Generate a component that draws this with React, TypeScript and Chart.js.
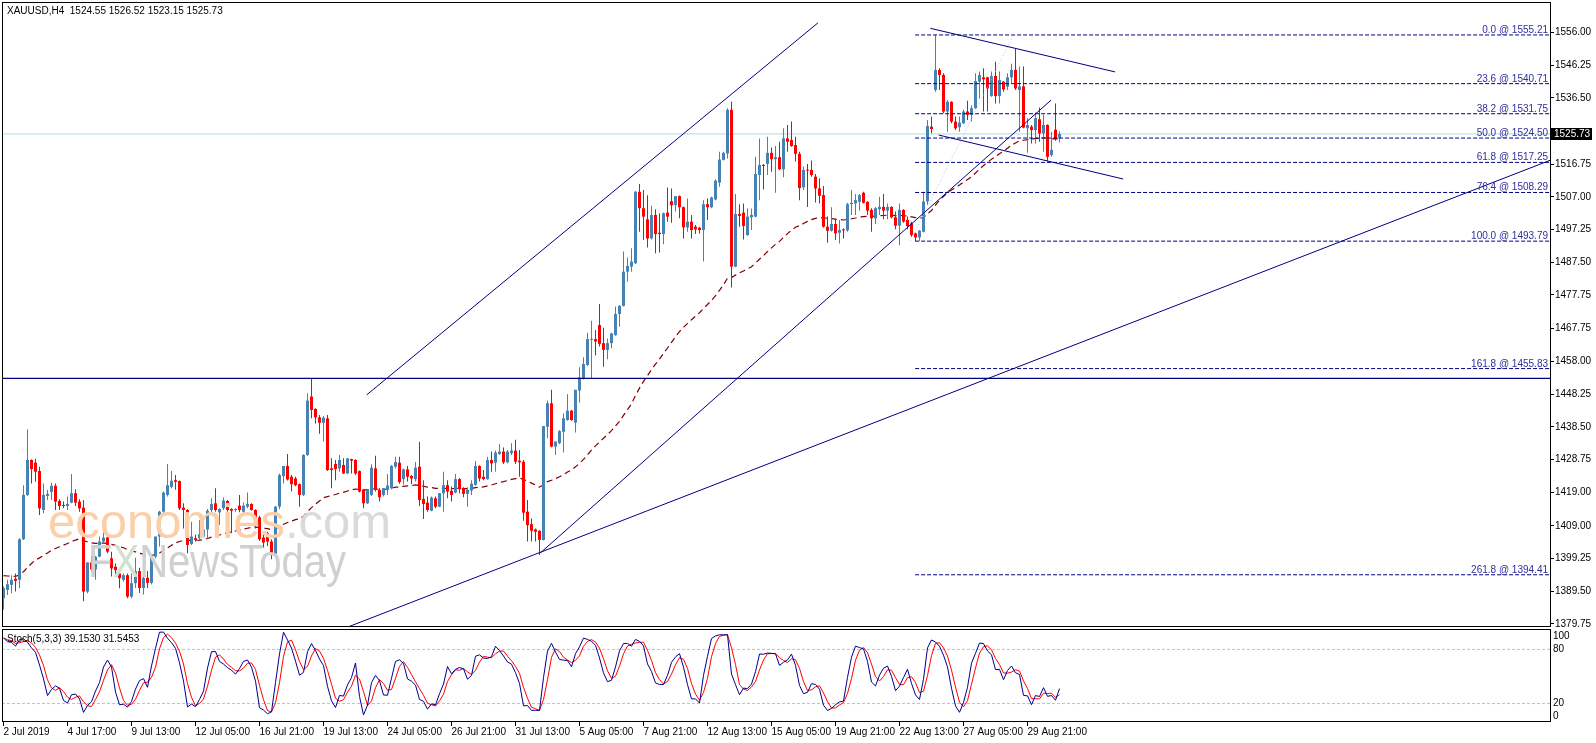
import { useEffect, useRef } from "react";
import { Chart, registerables } from "chart.js";

Chart.register(...registerables);

// ---------------- data ----------------
const opens = [
  1387.4, 1389.9, 1391.4, 1393.2, 1392.9, 1405.0, 1418.2, 1428.6, 1427.8, 1425.3,
  1413.7, 1417.9, 1419.1, 1420.9, 1416.4, 1415.2, 1414.9, 1415.9, 1418.7, 1416.2,
  1414.4, 1389.4, 1398.1, 1396.0, 1399.8, 1404.3, 1405.5, 1399.3, 1396.8, 1394.8,
  1392.9, 1394.3, 1387.9, 1391.9, 1395.5, 1390.5, 1393.5, 1392.0, 1399.8, 1405.8,
  1413.2, 1418.2, 1420.6, 1422.6, 1422.3, 1414.4, 1413.7, 1403.6, 1405.3, 1405.3,
  1405.8, 1407.9, 1413.7, 1415.7, 1413.0, 1414.2, 1416.4, 1414.0, 1413.7, 1415.0,
  1413.2, 1414.7, 1415.5, 1413.7, 1411.5, 1405.5, 1406.8, 1404.3, 1400.5, 1414.7,
  1423.8, 1426.8, 1423.6, 1423.1, 1421.4, 1418.2, 1430.1, 1447.5, 1443.8, 1441.3,
  1439.7, 1441.0, 1426.1, 1427.4, 1426.1, 1427.1, 1424.6, 1428.9, 1428.6, 1425.3,
  1419.7, 1415.7, 1418.2, 1426.1, 1419.7, 1418.2, 1419.7, 1420.2, 1426.6, 1427.8,
  1422.9, 1425.8, 1423.8, 1422.9, 1426.6, 1417.0, 1415.9, 1413.5, 1417.2, 1414.7,
  1418.7, 1421.1, 1419.4, 1418.9, 1422.9, 1420.2, 1418.5, 1419.5, 1421.2, 1426.8,
  1423.6, 1422.9, 1428.6, 1427.8, 1430.4, 1431.1, 1427.9, 1430.6, 1431.4, 1428.4,
  1428.1, 1413.2, 1409.5, 1407.9, 1407.5, 1404.8, 1438.5, 1445.5, 1432.6, 1433.6,
  1437.0, 1440.5, 1443.3, 1439.7, 1449.3, 1452.9, 1456.9, 1464.4, 1464.6, 1468.8,
  1463.4, 1461.4, 1463.4, 1465.8, 1472.1, 1474.5, 1484.7, 1486.2, 1487.2, 1508.5,
  1503.6, 1500.3, 1494.6, 1501.6, 1496.3, 1495.9, 1502.3, 1505.7, 1504.5, 1507.2,
  1503.9, 1497.9, 1499.6, 1498.1, 1497.8, 1497.1, 1504.8, 1503.9, 1506.2, 1511.2,
  1518.0, 1519.9, 1532.9, 1486.2, 1501.9, 1502.3, 1495.6, 1500.9, 1501.1, 1513.5,
  1516.5, 1516.8, 1520.1, 1518.2, 1518.8, 1515.2, 1524.4, 1523.9, 1522.4, 1519.8,
  1509.8, 1515.0, 1515.0, 1513.0, 1509.5, 1507.5, 1498.1, 1496.9, 1498.9, 1496.3,
  1497.2, 1497.0, 1504.8, 1505.0, 1505.5, 1508.2, 1505.5, 1503.1, 1500.6, 1503.3,
  1504.0, 1502.9, 1504.0, 1500.9, 1498.4, 1503.1, 1500.1, 1499.1, 1496.1, 1494.9,
  1496.6, 1505.6, 1527.9, 1538.8, 1544.8, 1543.3, 1532.4, 1535.3, 1529.4, 1527.7,
  1528.9, 1532.4, 1531.4, 1533.4, 1541.3, 1542.6, 1542.6, 1537.0, 1543.0, 1537.0,
  1541.3, 1539.8, 1542.6, 1544.8, 1538.8, 1539.9, 1527.4, 1527.9, 1526.9, 1530.1,
  1525.9, 1528.4, 1519.4, 1527.0, 1524.55,
];

const highs = [
  1390.9, 1392.9, 1394.3, 1394.8, 1405.3, 1421.1, 1437.7, 1428.8, 1429.0, 1426.6,
  1421.6, 1419.7, 1421.8, 1421.6, 1416.9, 1416.2, 1417.7, 1424.4, 1419.9, 1416.9,
  1416.7, 1398.1, 1400.0, 1400.0, 1405.8, 1407.2, 1406.0, 1401.3, 1397.8, 1395.3,
  1394.8, 1394.8, 1394.8, 1399.5, 1396.5, 1394.5, 1395.5, 1400.0, 1405.8, 1413.5,
  1419.2, 1427.4, 1425.3, 1424.1, 1422.5, 1415.7, 1414.0, 1410.2, 1406.3, 1410.7,
  1410.7, 1414.0, 1417.2, 1420.2, 1414.2, 1417.4, 1416.7, 1414.2, 1414.2, 1418.2,
  1415.9, 1418.9, 1415.7, 1413.9, 1412.0, 1406.3, 1407.2, 1405.0, 1414.9, 1424.6,
  1426.8, 1430.4, 1424.1, 1423.6, 1421.6, 1430.3, 1448.5, 1452.9, 1444.0, 1442.0,
  1441.7, 1442.0, 1429.1, 1428.6, 1430.1, 1429.1, 1429.1, 1429.0, 1428.8, 1425.5,
  1419.9, 1419.7, 1427.3, 1429.9, 1420.2, 1420.2, 1424.4, 1427.1, 1429.6, 1429.6,
  1426.1, 1426.8, 1424.1, 1428.0, 1434.0, 1422.6, 1417.7, 1417.7, 1417.7, 1418.7,
  1425.1, 1422.6, 1420.7, 1424.4, 1423.2, 1420.5, 1420.5, 1422.6, 1428.3, 1427.0,
  1425.6, 1429.6, 1431.1, 1431.4, 1433.4, 1432.3, 1431.6, 1433.6, 1434.6, 1431.6,
  1428.6, 1416.7, 1411.2, 1408.2, 1407.7, 1438.7, 1446.3, 1449.5, 1434.1, 1437.5,
  1442.5, 1448.2, 1443.5, 1449.5, 1456.2, 1459.2, 1466.5, 1470.1, 1467.3, 1475.1,
  1468.0, 1464.8, 1466.4, 1474.3, 1474.8, 1490.7, 1488.9, 1491.7, 1508.7, 1510.8,
  1509.0, 1507.5, 1504.3, 1503.3, 1502.1, 1502.3, 1509.8, 1509.5, 1507.2, 1507.4,
  1504.1, 1506.5, 1501.6, 1498.6, 1498.1, 1506.0, 1506.5, 1507.0, 1512.2, 1520.4,
  1520.4, 1533.4, 1535.3, 1507.8, 1504.8, 1505.0, 1503.5, 1503.5, 1518.9, 1524.4,
  1516.8, 1524.9, 1521.7, 1522.1, 1523.4, 1527.4, 1528.4, 1529.4, 1524.9, 1520.4,
  1516.0, 1516.8, 1517.8, 1513.8, 1512.5, 1510.2, 1501.1, 1503.9, 1500.3, 1500.1,
  1497.6, 1505.2, 1509.0, 1507.8, 1507.8, 1508.5, 1505.7, 1503.6, 1504.0, 1507.0,
  1507.8, 1505.0, 1504.2, 1502.6, 1505.0, 1503.3, 1501.1, 1499.6, 1496.3, 1497.1,
  1508.5, 1529.9, 1530.9, 1555.21, 1545.3, 1543.8, 1535.8, 1535.5, 1530.9, 1530.9,
  1532.9, 1535.6, 1534.3, 1543.8, 1544.3, 1545.3, 1542.8, 1544.3, 1547.2, 1544.3,
  1541.5, 1543.8, 1546.6, 1551.2, 1545.8, 1545.8, 1530.4, 1528.4, 1532.1, 1533.6,
  1531.4, 1528.6, 1526.4, 1534.8, 1526.52,
];

const lows = [
  1384.0, 1388.4, 1388.9, 1389.4, 1390.4, 1404.8, 1417.9, 1421.6, 1422.1, 1412.2,
  1412.7, 1416.7, 1416.7, 1413.7, 1413.7, 1414.2, 1413.7, 1415.7, 1414.9, 1413.2,
  1386.5, 1388.9, 1395.5, 1392.9, 1399.6, 1403.8, 1400.8, 1393.9, 1394.3, 1390.4,
  1392.4, 1387.4, 1387.4, 1390.5, 1389.0, 1388.5, 1390.5, 1391.5, 1399.3, 1402.8,
  1412.7, 1417.7, 1420.2, 1419.7, 1413.7, 1408.2, 1400.8, 1403.3, 1404.3, 1404.8,
  1405.3, 1405.3, 1412.7, 1413.2, 1409.2, 1413.7, 1413.2, 1406.8, 1413.2, 1413.0,
  1412.7, 1414.2, 1413.5, 1408.2, 1404.5, 1402.5, 1403.0, 1399.0, 1399.8, 1413.9,
  1421.6, 1422.5, 1419.2, 1420.8, 1414.7, 1417.9, 1429.8, 1441.0, 1439.5, 1436.4,
  1434.1, 1425.3, 1420.2, 1422.6, 1425.1, 1424.4, 1424.4, 1424.6, 1424.1, 1418.9,
  1414.2, 1415.5, 1417.9, 1419.2, 1416.2, 1417.7, 1418.2, 1419.9, 1426.1, 1421.5,
  1421.2, 1422.2, 1421.4, 1422.2, 1414.9, 1411.0, 1413.2, 1413.3, 1414.2, 1414.5,
  1413.2, 1417.2, 1416.2, 1418.7, 1418.7, 1417.5, 1414.7, 1418.2, 1420.9, 1422.2,
  1422.6, 1422.7, 1425.1, 1425.1, 1430.1, 1427.4, 1427.6, 1430.1, 1427.4, 1423.6,
  1410.5, 1404.3, 1404.3, 1404.3, 1400.3, 1404.6, 1435.1, 1432.4, 1430.1, 1433.3,
  1430.8, 1440.3, 1440.3, 1436.8, 1445.7, 1452.6, 1456.7, 1452.9, 1459.7, 1462.4,
  1456.4, 1458.6, 1461.9, 1465.6, 1468.3, 1474.3, 1481.7, 1484.7, 1487.0, 1496.6,
  1494.1, 1491.9, 1494.3, 1490.2, 1490.4, 1492.9, 1499.6, 1499.3, 1502.6, 1500.6,
  1494.6, 1496.6, 1494.6, 1495.9, 1496.1, 1487.7, 1500.1, 1503.6, 1506.0, 1510.0,
  1517.8, 1518.4, 1480.0, 1486.0, 1498.1, 1494.3, 1495.4, 1497.1, 1500.9, 1506.0,
  1509.2, 1513.5, 1514.5, 1508.2, 1515.0, 1512.8, 1520.4, 1521.9, 1517.5, 1506.0,
  1509.0, 1504.0, 1513.0, 1505.3, 1505.0, 1497.8, 1493.3, 1496.7, 1494.1, 1493.1,
  1494.6, 1496.6, 1501.6, 1501.6, 1502.9, 1505.0, 1501.6, 1496.6, 1498.9, 1501.6,
  1500.3, 1500.3, 1500.6, 1497.3, 1492.6, 1499.3, 1497.3, 1495.1, 1493.79, 1493.8,
  1496.4, 1504.6, 1525.9, 1538.3, 1538.8, 1531.9, 1526.4, 1528.9, 1526.9, 1526.4,
  1528.7, 1529.9, 1529.4, 1533.2, 1536.3, 1532.4, 1532.4, 1536.8, 1534.8, 1534.8,
  1538.3, 1538.8, 1540.8, 1538.8, 1526.4, 1527.4, 1520.1, 1522.9, 1522.9, 1523.4,
  1520.4, 1517.5, 1518.9, 1523.7, 1523.15,
];

const closes = [
  1390.4, 1391.6, 1392.9, 1392.6, 1405.0, 1418.2, 1428.6, 1425.9, 1425.1, 1414.2,
  1418.2, 1418.5, 1420.9, 1416.2, 1414.9, 1414.9, 1415.5, 1418.7, 1415.9, 1414.2,
  1389.4, 1398.1, 1396.0, 1399.8, 1404.3, 1405.5, 1401.3, 1396.3, 1395.8, 1393.4,
  1394.3, 1387.9, 1391.9, 1395.5, 1390.5, 1393.5, 1392.0, 1399.8, 1405.8, 1413.2,
  1418.9, 1421.1, 1422.4, 1422.1, 1414.2, 1413.7, 1403.3, 1405.8, 1404.8, 1406.5,
  1407.9, 1413.5, 1415.5, 1413.7, 1414.0, 1416.5, 1413.7, 1413.5, 1414.0, 1413.7,
  1415.0, 1415.5, 1413.7, 1411.5, 1405.0, 1404.0, 1404.3, 1400.5, 1414.7, 1424.1,
  1426.8, 1422.8, 1421.4, 1421.1, 1418.2, 1430.1, 1446.3, 1443.5, 1441.3, 1439.7,
  1441.2, 1425.6, 1425.6, 1425.9, 1428.6, 1424.6, 1429.1, 1428.4, 1424.6, 1419.2,
  1415.7, 1419.7, 1426.3, 1419.7, 1417.5, 1420.2, 1421.0, 1426.8, 1428.0, 1422.0,
  1425.8, 1423.6, 1423.1, 1426.3, 1416.7, 1415.5, 1413.7, 1417.4, 1414.7, 1418.7,
  1421.1, 1419.2, 1418.2, 1422.9, 1419.9, 1418.5, 1419.7, 1421.5, 1426.8, 1423.1,
  1422.9, 1428.6, 1427.6, 1430.8, 1431.1, 1427.9, 1431.1, 1431.4, 1428.1, 1427.9,
  1412.9, 1409.2, 1407.5, 1407.2, 1404.8, 1438.7, 1445.5, 1432.6, 1434.1, 1437.2,
  1441.0, 1443.3, 1440.5, 1449.5, 1453.2, 1457.2, 1464.6, 1464.6, 1463.9, 1463.2,
  1461.4, 1463.4, 1466.3, 1472.1, 1474.5, 1484.7, 1486.4, 1487.7, 1508.5, 1503.6,
  1501.1, 1494.6, 1501.6, 1495.9, 1495.9, 1502.1, 1501.1, 1504.5, 1507.2, 1503.9,
  1497.9, 1499.6, 1497.1, 1497.3, 1497.1, 1504.8, 1503.9, 1506.8, 1511.8, 1518.1,
  1520.1, 1532.9, 1486.2, 1501.9, 1501.3, 1498.3, 1501.1, 1501.6, 1513.8, 1516.5,
  1516.2, 1520.1, 1518.2, 1518.8, 1515.2, 1524.4, 1523.4, 1522.1, 1519.8, 1509.6,
  1515.0, 1514.8, 1513.5, 1509.5, 1507.3, 1498.1, 1496.9, 1498.9, 1496.1, 1497.1,
  1497.0, 1504.8, 1505.2, 1506.0, 1507.5, 1505.2, 1502.9, 1500.6, 1503.6, 1504.0,
  1502.9, 1504.0, 1500.9, 1498.4, 1503.1, 1499.6, 1498.3, 1495.6, 1494.9, 1496.9,
  1505.6, 1528.1, 1527.2, 1544.8, 1543.3, 1532.4, 1535.3, 1529.4, 1527.4, 1529.1,
  1532.4, 1531.4, 1533.4, 1541.5, 1543.3, 1542.0, 1539.3, 1543.0, 1537.0, 1541.8,
  1539.0, 1542.6, 1544.8, 1539.3, 1539.9, 1527.6, 1528.4, 1526.9, 1530.4, 1525.9,
  1528.4, 1518.9, 1521.0, 1524.3, 1525.73,
];

const priceTicks = [
  1556.0, 1546.25, 1536.5, 1516.75, 1507.0, 1497.25, 1487.5, 1477.75, 1467.75,
  1458.0, 1448.25, 1438.5, 1428.75, 1419.0, 1409.0, 1399.25, 1389.5, 1379.75,
];

const dateLabels = [
  "2 Jul 2019", "4 Jul 17:00", "9 Jul 13:00", "12 Jul 05:00", "16 Jul 21:00",
  "19 Jul 13:00", "24 Jul 05:00", "26 Jul 21:00", "31 Jul 13:00", "5 Aug 05:00",
  "7 Aug 21:00", "12 Aug 13:00", "15 Aug 05:00", "19 Aug 21:00", "22 Aug 13:00",
  "27 Aug 05:00", "29 Aug 21:00",
];
const dateLabelBars = [0, 16, 32, 48, 64, 80, 96, 112, 128, 144, 160, 176, 192, 208, 224, 240, 256];

const fibPercents = ["0.0", "23.6", "38.2", "50.0", "61.8", "76.4", "100.0", "161.8", "261.8"];
const fibPrices = [1555.21, 1540.71, 1531.75, 1524.5, 1517.25, 1508.29, 1493.79, 1455.83, 1394.41];
const fibStartBar = 227.9;
const fibAnchor = [226.7, 1493.79, 252.5, 1555.21];

const horizontalLevel = 1452.9;
// [bar1, price1, bar2, price2]
const trendLines = [
  [90.8, 1448.0, 203.6, 1558.8],
  [134.2, 1400.9, 261.9, 1535.8],
  [70.0, 1371.4, 386.7, 1517.9],
  [231.7, 1557.2, 277.9, 1544.2],
  [233.8, 1525.4, 279.9, 1512.3],
];

const emaPeriod = 50;
const emaSeed = 1394.3;
const stochK = 5, stochSlow = 3, stochD = 3;
const stochLevels = [20, 80];
const stochAxisLabels = [100, 80, 20, 0];
const stochTitle = "Stoch(5,3,3) 39.1530 31.5453";

// ---------------- styling ----------------
const BULL = "#4682b4";
const BEAR = "#ff0000";
const NAVY = "#000080";
const FONT = "'Liberation Sans', Arial, sans-serif";
const X_MIN = -0.375;
const X_MAX = 386.625;
const Y_MIN = 1378.85;
const Y_MAX = 1565.03;

function calcEma(): number[] {
  const k = 2 / (emaPeriod + 1);
  const out: number[] = [];
  let prev = emaSeed;
  closes.forEach((c) => {
    prev = prev + k * (c - prev);
    out.push(prev);
  });
  return out;
}

function calcStoch(): { k: number[]; d: number[] } {
  const n = closes.length;
  const ll: number[] = [];
  const hh: number[] = [];
  for (let i = 0; i < n; i++) {
    let lo = Infinity, hi = -Infinity;
    for (let j = Math.max(0, i - stochK + 1); j <= i; j++) {
      lo = Math.min(lo, lows[j]);
      hi = Math.max(hi, highs[j]);
    }
    ll.push(lo);
    hh.push(hi);
  }
  const k: number[] = [];
  for (let i = 0; i < n; i++) {
    let num = 0, den = 0;
    for (let j = Math.max(0, i - stochSlow + 1); j <= i; j++) {
      num += closes[j] - ll[j];
      den += hh[j] - ll[j];
    }
    k.push(den > 0 ? (100 * num) / den : 50);
  }
  const d: number[] = [];
  for (let i = 0; i < n; i++) {
    let s = 0, c = 0;
    for (let j = Math.max(0, i - stochD + 1); j <= i; j++) {
      s += k[j];
      c++;
    }
    d.push(s / c);
  }
  return { k, d };
}

function lineDs(points: { x: number; y: number }[], color: string, width: number, dash: number[], order: number): any {
  return {
    type: "line",
    data: points,
    borderColor: color,
    backgroundColor: color,
    borderWidth: width,
    borderDash: dash,
    pointRadius: 0,
    pointHoverRadius: 0,
    fill: false,
    tension: 0,
    order,
  };
}

function noPad(s: any) {
  s.paddingTop = 0;
  s.paddingBottom = 0;
  s.paddingLeft = 0;
  s.paddingRight = 0;
}

export default function App() {
  const mainRef = useRef<HTMLCanvasElement>(null);
  const stochRef = useRef<HTMLCanvasElement>(null);

  useEffect(() => {
    document.body.style.margin = "0";
    document.body.style.overflow = "hidden";
    const n = closes.length;
    const last = n - 1;
    const colors = closes.map((c, i) => (c >= opens[i] ? BULL : BEAR));
    const ema = calcEma();
    const { k, d } = calcStoch();

    const datasets: any[] = [];
    datasets.push(lineDs(ema.map((v, i) => ({ x: i, y: v })), "#800000", 1.2, [6, 4], 10));
    datasets.push(lineDs([{ x: X_MIN, y: closes[last] }, { x: X_MAX, y: closes[last] }], "#a9dde6", 1, [], 9));
    datasets.push({
      type: "bar",
      data: highs.map((h, i) => ({ x: i, y: [lows[i], h] })),
      backgroundColor: colors,
      barThickness: 1,
      grouped: false,
      inflateAmount: 0,
      borderWidth: 0,
      minBarLength: 1,
      order: 5,
    });
    datasets.push({
      type: "bar",
      data: opens.map((o, i) => ({ x: i, y: [Math.min(o, closes[i]), Math.max(o, closes[i])] })),
      backgroundColor: colors,
      barThickness: 3,
      grouped: false,
      inflateAmount: 0,
      borderWidth: 0,
      minBarLength: 1,
      order: 4,
    });
    datasets.push(lineDs([{ x: X_MIN, y: horizontalLevel }, { x: X_MAX, y: horizontalLevel }], NAVY, 1.3, [], 3));
    fibPrices.forEach((p) => {
      datasets.push(lineDs([{ x: fibStartBar, y: p }, { x: X_MAX + 1, y: p }], NAVY, 1, [4, 2], 2));
    });
    datasets.push(lineDs([{ x: fibAnchor[0], y: fibAnchor[1] }, { x: fibAnchor[2], y: fibAnchor[3] }], "#c4c4ec", 1, [1, 2], 2));
    trendLines.forEach((t) => {
      datasets.push(lineDs([{ x: t[0], y: t[1] }, { x: t[2], y: t[3] }], NAVY, 1, [], 1));
    });

    const font10 = { family: FONT, size: 10 };

    const mainDecor = {
      id: "mainDecor",
      beforeDraw(chart: any) {
        const ctx = chart.ctx;
        ctx.save();
        ctx.fillStyle = "#ffffff";
        ctx.fillRect(0, 0, chart.width, chart.height);
        ctx.restore();
      },
      afterDatasetsDraw(chart: any) {
        const ctx = chart.ctx;
        const ys = chart.scales.y;
        const ca = chart.chartArea;
        ctx.save();
        // watermark
        ctx.textBaseline = "alphabetic";
        ctx.textAlign = "left";
        ctx.font = `49px ${FONT}`;
        ctx.fillStyle = "#fbcfa8";
        ctx.fillText("economies", 48, 538);
        const w1 = ctx.measureText("economies").width;
        ctx.fillStyle = "#dadada";
        ctx.fillText(".com", 48 + w1, 538);
        ctx.save();
        ctx.translate(88, 577);
        ctx.scale(0.87, 1);
        ctx.font = `46px ${FONT}`;
        ctx.fillStyle = "#d0d0d0";
        ctx.fillText("F", 0, 0);
        const wf = ctx.measureText("F").width;
        ctx.fillStyle = "#cfe2cd";
        ctx.fillText("X", wf, 0);
        const wx = ctx.measureText("X").width;
        ctx.fillStyle = "#d0d0d0";
        ctx.fillText("NewsToday", wf + wx, 0);
        ctx.restore();
        // fib labels
        ctx.font = `10px ${FONT}`;
        ctx.textAlign = "right";
        ctx.textBaseline = "alphabetic";
        ctx.fillStyle = "#2e2e9e";
        fibPrices.forEach((p, i) => {
          const y = ys.getPixelForValue(p);
          ctx.fillText(`${fibPercents[i]} @ ${p.toFixed(2)}`, ca.right - 2, y - 2);
        });
        // title
        ctx.textAlign = "left";
        ctx.textBaseline = "middle";
        ctx.fillStyle = "#000000";
        ctx.fillText(
          `XAUUSD,H4  ${opens[last].toFixed(2)} ${highs[last].toFixed(2)} ${lows[last].toFixed(2)} ${closes[last].toFixed(2)}`,
          7,
          11
        );
        ctx.restore();
      },
      afterDraw(chart: any) {
        const ctx = chart.ctx;
        const ca = chart.chartArea;
        const ys = chart.scales.y;
        ctx.save();
        ctx.strokeStyle = "#000000";
        ctx.lineWidth = 1;
        ctx.strokeRect(ca.left + 0.5, ca.top + 0.5, ca.right - ca.left, ca.bottom - ca.top - 1);
        const y = Math.round(ys.getPixelForValue(closes[last]));
        ctx.fillStyle = "#000000";
        ctx.fillRect(ca.right + 1, y - 6, 41, 12);
        ctx.fillStyle = "#ffffff";
        ctx.font = `10px ${FONT}`;
        ctx.textAlign = "left";
        ctx.textBaseline = "middle";
        ctx.fillText(closes[last].toFixed(2), ca.right + 4, y);
        ctx.restore();
      },
    };

    const main = new Chart(mainRef.current as HTMLCanvasElement, {
      type: "bar",
      data: { datasets },
      options: {
        responsive: false,
        animation: false,
        events: [],
        layout: { padding: { left: 2, top: 2, right: 0, bottom: 0 } },
        plugins: { legend: { display: false }, tooltip: { enabled: false } },
        scales: {
          x: { type: "linear", min: X_MIN, max: X_MAX, offset: false, display: false },
          y: {
            type: "linear",
            position: "right",
            min: Y_MIN,
            max: Y_MAX,
            afterBuildTicks: (s: any) => {
              s.ticks = priceTicks.map((v) => ({ value: v }));
            },
            afterFit: (s: any) => {
              s.width = 46;
              noPad(s);
            },
            ticks: {
              autoSkip: false,
              padding: 1,
              color: "#000000",
              font: font10,
              callback: (v: any) => Number(v).toFixed(2),
            },
            grid: { drawOnChartArea: false, drawTicks: true, tickLength: 4, color: "#000000" },
            border: { display: false },
          },
        },
      } as any,
      plugins: [mainDecor],
    });

    const stDatasets: any[] = [];
    stochLevels.forEach((lv) => {
      stDatasets.push(lineDs([{ x: X_MIN, y: lv }, { x: X_MAX, y: lv }], "#c0c0c0", 1, [3, 2], 5));
    });
    stDatasets.push(lineDs(d.map((v, i) => ({ x: i, y: v })), "#ff0000", 1, [], 2));
    stDatasets.push(lineDs(k.map((v, i) => ({ x: i, y: v })), "#00008b", 1, [], 1));

    const stochDecor = {
      id: "stochDecor",
      beforeDraw(chart: any) {
        const ctx = chart.ctx;
        ctx.save();
        ctx.fillStyle = "#ffffff";
        ctx.fillRect(0, 0, chart.width, chart.height);
        ctx.restore();
      },
      afterDatasetsDraw(chart: any) {
        const ctx = chart.ctx;
        ctx.save();
        ctx.font = `10px ${FONT}`;
        ctx.fillStyle = "#000000";
        ctx.textAlign = "left";
        ctx.textBaseline = "middle";
        ctx.fillText(stochTitle, 7, 11);
        ctx.restore();
      },
      afterDraw(chart: any) {
        const ctx = chart.ctx;
        const ca = chart.chartArea;
        const ys = chart.scales.y;
        ctx.save();
        ctx.strokeStyle = "#000000";
        ctx.lineWidth = 1;
        ctx.strokeRect(ca.left + 0.5, ca.top + 0.5, ca.right - ca.left, ca.bottom - ca.top - 1);
        ctx.font = `10px ${FONT}`;
        ctx.fillStyle = "#000000";
        ctx.textAlign = "left";
        ctx.textBaseline = "middle";
        stochAxisLabels
          .filter((v) => stochLevels.indexOf(v) < 0)
          .forEach((v) => {
            const y = Math.min(Math.max(ys.getPixelForValue(v), ca.top + 7), ca.bottom - 6);
            ctx.fillText(String(v), ca.right + 3, y);
          });
        ctx.restore();
      },
    };

    const st = new Chart(stochRef.current as HTMLCanvasElement, {
      type: "line",
      data: { datasets: stDatasets },
      options: {
        responsive: false,
        animation: false,
        events: [],
        layout: { padding: { left: 2, top: 1, right: 0, bottom: 0 } },
        plugins: { legend: { display: false }, tooltip: { enabled: false } },
        scales: {
          x: {
            type: "linear",
            position: "bottom",
            min: X_MIN,
            max: X_MAX,
            offset: false,
            afterBuildTicks: (s: any) => {
              s.ticks = dateLabelBars.map((v) => ({ value: v }));
            },
            afterFit: (s: any) => {
              s.height = 21;
              noPad(s);
            },
            ticks: {
              autoSkip: false,
              maxRotation: 0,
              minRotation: 0,
              align: "start",
              padding: 0,
              color: "#000000",
              font: font10,
              callback: (_v: any, idx: number) => dateLabels[idx] ?? "",
            },
            grid: { drawOnChartArea: false, drawTicks: true, tickLength: 4, color: "#000000" },
            border: { display: false },
          },
          y: {
            type: "linear",
            position: "right",
            min: -0.45,
            max: 102.6,
            afterBuildTicks: (s: any) => {
              s.ticks = stochLevels.map((v) => ({ value: v }));
            },
            afterFit: (s: any) => {
              s.width = 46;
              noPad(s);
            },
            ticks: { padding: 3, color: "#000000", font: font10, callback: (v: any) => String(v) },
            grid: { drawOnChartArea: false, drawTicks: false },
            border: { display: false },
          },
        },
      } as any,
      plugins: [stochDecor],
    });

    return () => {
      main.destroy();
      st.destroy();
    };
  }, []);

  return (
    <div style={{ position: "relative", width: 1596, height: 743, background: "#ffffff", overflow: "hidden" }}>
      <canvas
        ref={mainRef}
        width={1596}
        height={627}
        style={{ position: "absolute", left: 0, top: 0, width: 1596, height: 627 }}
      />
      <canvas
        ref={stochRef}
        width={1596}
        height={115}
        style={{ position: "absolute", left: 0, top: 628, width: 1596, height: 115 }}
      />
    </div>
  );
}
